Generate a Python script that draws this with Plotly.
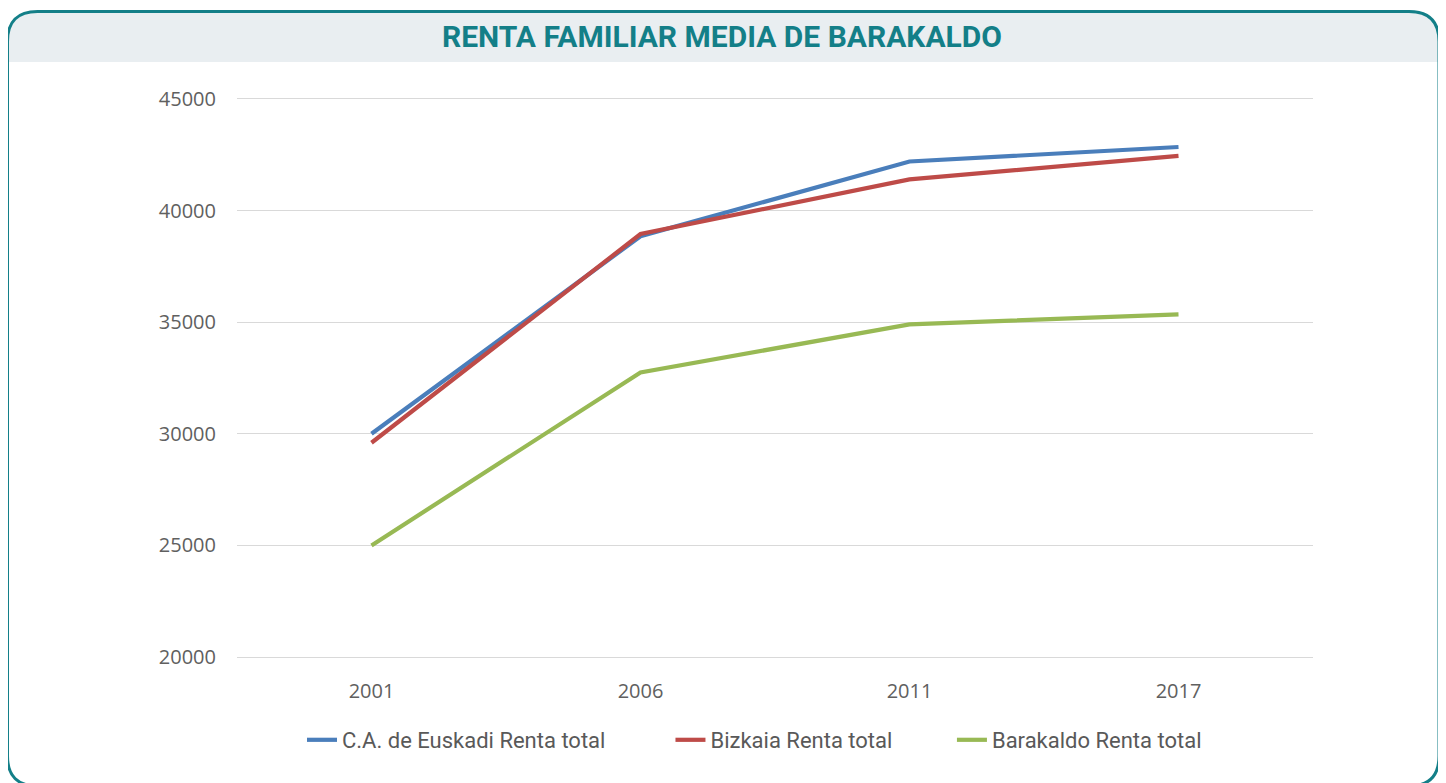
import plotly.graph_objects as go

years = ["2001", "2006", "2011", "2017"]
euskadi = [30000, 38850, 42200, 42850]
bizkaia = [29600, 38950, 41400, 42450]
barakaldo = [25000, 32750, 34900, 35350]
series_names = ["C.A. de Euskadi Renta total", "Bizkaia Renta total", "Barakaldo Renta total"]
y_ticks = [20000, 25000, 30000, 35000, 40000, 45000]

# page has an 8px body margin: figure is drawn in a 1438x775 box offset by 8px
OFF = 8
W, H = 1446 - OFF, 783 - OFF
# plot area in page pixels: x 237..1313, y 99..657
ML, MR, MT, MB = 237 - OFF, W - (1313 - OFF), 99 - OFF, H - (657 - OFF)
PW, PH = W - ML - MR, H - MT - MB

def P(x, y):
    """page pixel -> paper coords"""
    fx, fy = x - OFF, y - OFF
    return (fx - ML) / PW, (H - MB - fy) / PH

def path(cmds):
    out = []
    for c in cmds:
        op = c[0]
        pts = c[1:]
        coords = []
        for i in range(0, len(pts), 2):
            px, py = P(pts[i], pts[i + 1])
            coords.append(f"{px:.5f},{py:.5f}")
        out.append(op + " ".join(coords))
    return " ".join(out)

colors = ["#4a7ebb", "#be4b48", "#98b954"]
pads = [11, 10, 0]
NB = "\u00a0"
fig = go.Figure()
for name, vals, col, pad in zip(series_names, [euskadi, bizkaia, barakaldo], colors, pads):
    fig.add_trace(go.Scatter(x=years, y=vals, name=name + NB * pad, mode="lines",
                             line=dict(color=col, width=4.2), hoverinfo="skip"))

L, R, T, B, r = 7.5, 1439, 11.5, 786, 30
header_bottom = 62
header = path([("M", L, header_bottom), ("L", L, T + r), ("Q", L, T, L + r, T),
               ("L", R - r, T), ("Q", R, T, R, T + r), ("L", R, header_bottom), ("Z",)])
border = path([("M", L, T + r), ("Q", L, T, L + r, T), ("L", R - r, T), ("Q", R, T, R, T + r),
               ("L", R, B - r), ("Q", R, B, R - r, B), ("L", L + r, B), ("Q", L, B, L, B - r), ("Z",)])

shapes = [
    dict(type="path", xref="paper", yref="paper", path=header, fillcolor="#e9eef1",
         line=dict(width=0), layer="below"),
    dict(type="path", xref="paper", yref="paper", path=border, fillcolor="rgba(0,0,0,0)",
         line=dict(color="#137f88", width=3), layer="above"),
]

tx, ty = P(722, 37)
lx, ly = P(302, 740)
tickfont = dict(family="Open Sans, Arial", size=20, color="#606060")
fig.update_layout(
    width=W, height=H,
    margin=dict(l=ML, r=MR, t=MT, b=MB),
    paper_bgcolor="white", plot_bgcolor="white",
    shapes=shapes,
    annotations=[dict(text="<b>RENTA FAMILIAR MEDIA DE BARAKALDO</b>", x=tx, y=ty,
                      xref="paper", yref="paper", showarrow=False, xanchor="center", yanchor="middle",
                      font=dict(family="Roboto, Arial", size=30, color="#137f88"))],
    xaxis=dict(type="category", range=[-0.5, 3.5], showgrid=False, zeroline=False,
               showline=True, mirror=True, linecolor="#d9d9d9", linewidth=1.3,
               ticks="", ticklabelstandoff=16, tickfont=tickfont),
    yaxis=dict(range=[20000, 45000], tickvals=y_ticks, tickformat="d", showgrid=True,
               gridcolor="#d9d9d9", gridwidth=1.3, zeroline=False, showline=False, ticks="",
               ticklabelstandoff=20, tickfont=tickfont),
    legend=dict(orientation="h", x=lx, y=ly, xanchor="left", yanchor="middle",
                font=dict(family="Roboto, Arial", size=22, color="#595959"),
                bgcolor="rgba(0,0,0,0)"),
    showlegend=True,
)

fig.write_html("out.html")
